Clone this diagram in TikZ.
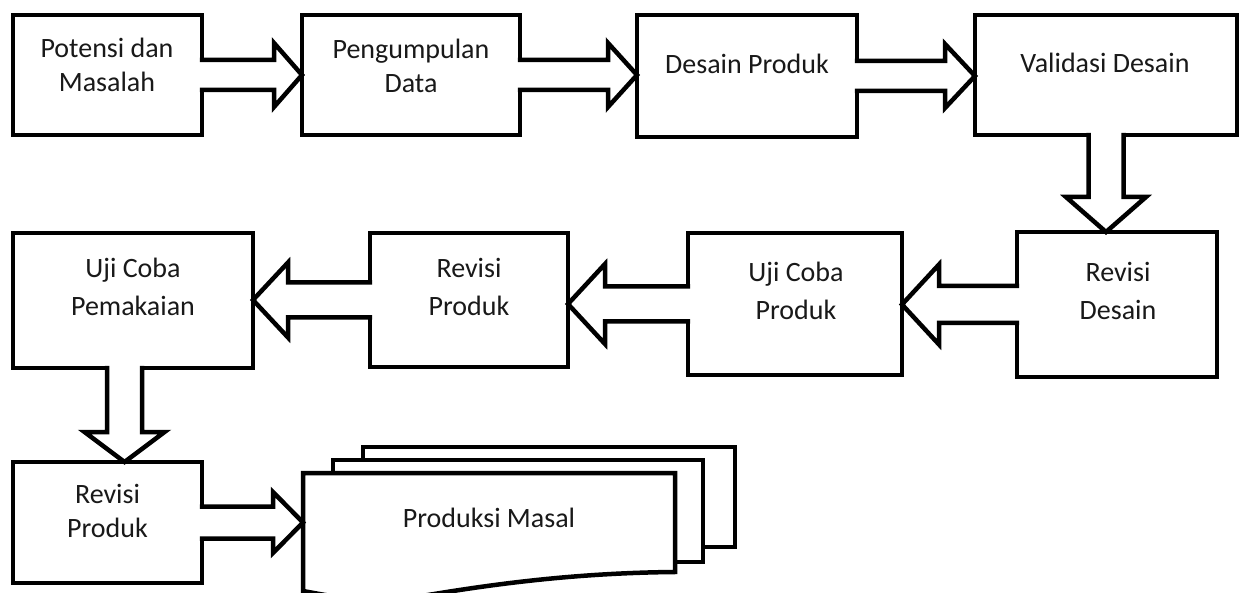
\documentclass[tikz,border=0pt]{standalone}
\usepackage{fontspec}
\setmainfont{Carlito}
\usetikzlibrary{calc}
\tikzset{
  box/.style={draw, line width=4.5pt, inner sep=0pt, outer sep=0pt, fill=white},
  barrow/.style={draw, fill=white, line width=4.5pt, line join=miter},
  doc/.style={draw, fill=white, line width=4.5pt, line join=miter},
  lbl/.style={align=center, inner sep=0pt, text=black!90, font=\fontsize{28}{34}\selectfont},
  lblwide/.style={lbl, font=\fontsize{28}{38}\selectfont}
}
\newcommand\rightblockarrow[5]{%
  \draw[barrow] let \p1=(#1), \p2=(#2) in
  ({\x1-2.2pt},{\y1+#3pt}) -- ({\x2-#5pt},{\y1+#3pt}) -- ({\x2-#5pt},{\y1+#4pt}) -- (\x2,\y1)
  -- ({\x2-#5pt},{\y1-#4pt}) -- ({\x2-#5pt},{\y1-#3pt}) -- ({\x1-2.2pt},{\y1-#3pt});}
\newcommand\leftblockarrow[5]{%
  \draw[barrow] let \p1=(#1), \p2=(#2) in
  ({\x1+2.2pt},{\y1+#3pt}) -- ({\x2+#5pt},{\y1+#3pt}) -- ({\x2+#5pt},{\y1+#4pt}) -- (\x2,\y1)
  -- ({\x2+#5pt},{\y1-#4pt}) -- ({\x2+#5pt},{\y1-#3pt}) -- ({\x1+2.2pt},{\y1-#3pt});}
\newcommand\downblockarrow[5]{%
  \draw[barrow] let \p1=(#1), \p2=(#2) in
  ({\x1-#3pt},{\y1+2.2pt}) -- ({\x1-#3pt},{\y2+#5pt}) -- ({\x1-#4pt},{\y2+#5pt}) -- (\x1,\y2)
  -- ({\x1+#4pt},{\y2+#5pt}) -- ({\x1+#3pt},{\y2+#5pt}) -- ({\x1+#3pt},{\y1+2.2pt});}
\begin{document}
\begin{tikzpicture}[x=1pt, y=-1pt]
\useasboundingbox (0,0) rectangle (1245,593);
\clip (0,0) rectangle (1245,593);
\fill[white] (0,0) rectangle (1245,593);
% boxes
\node[box, minimum width=189pt, minimum height=120pt] (b1) at (107.5,75) {};
\node[box, minimum width=218pt, minimum height=120pt] (b2) at (411,75) {};
\node[box, minimum width=220pt, minimum height=122pt] (b3) at (747,76) {};
\node[box, minimum width=262pt, minimum height=120pt] (b4) at (1106,75) {};
\node[box, minimum width=200pt, minimum height=145pt] (b5) at (1117,304.5) {};
\node[box, minimum width=214pt, minimum height=142pt] (b6) at (795,304) {};
\node[box, minimum width=198pt, minimum height=134pt] (b7) at (469,300) {};
\node[box, minimum width=240pt, minimum height=135pt] (b8) at (133,300.5) {};
\node[box, minimum width=189pt, minimum height=121pt] (b9) at (107.5,522.5) {};
% stacked documents
\draw[doc] (363,447) rectangle (735,547);
\draw[doc] (333,460) rectangle (703,562);
\draw[doc] (303,473) -- (675,473) -- (675,572)
  .. controls (560,573) and (470,588) .. (410,598)
  .. controls (370,604) and (330,596) .. (303,591) -- cycle;
\coordinate (docw) at (303,523);
% block arrows
\rightblockarrow{b1.east}{b2.west}{15}{32}{28}
\rightblockarrow{b2.east}{b3.west}{15}{32}{29}
\rightblockarrow{b3.east}{b4.west}{15}{32}{30}
\downblockarrow{b4.south}{b5.north}{17.5}{40}{35}
\leftblockarrow{b5.west}{b6.east}{18.5}{40}{37}
\leftblockarrow{b6.west}{b7.east}{17.5}{40}{37}
\leftblockarrow{b7.west}{b8.east}{17.5}{37.5}{35}
\downblockarrow{$(b8.south)+(-8.5,0)$}{b9.north}{17.5}{40}{30}
\rightblockarrow{b9.east}{docw}{16}{30.5}{30}
% labels
\node[lbl] (t1) at (107,65) {Potensi dan\\Masalah};
\node[lbl] (t2) at (411,66) {Pengumpulan\\Data};
\node[lbl] (t3) at (747,64) {Desain Produk};
\node[lbl] (t4) at (1105,63) {Validasi Desain};
\node[lblwide] (t5) at (1118,291) {Revisi\\Desain};
\node[lblwide] (t6) at (796,291) {Uji Coba\\Produk};
\node[lblwide] (t7) at (469,287) {Revisi\\Produk};
\node[lblwide] (t8) at (133,287) {Uji Coba\\Pemakaian};
\node[lbl] (t9) at (107.5,511) {Revisi\\Produk};
\node[lbl] (t10) at (489,518) {Produksi Masal};
\end{tikzpicture}
\end{document}
